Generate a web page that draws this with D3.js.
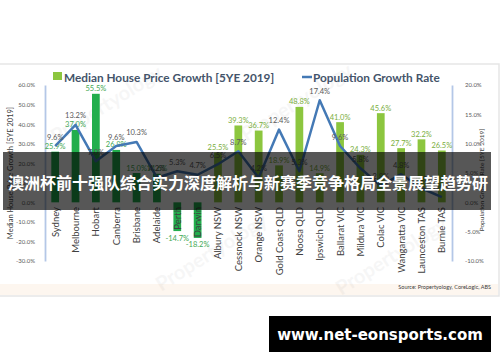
<!DOCTYPE html>
<html>
<head>
<meta charset="utf-8">
<script src="https://cdn.jsdelivr.net/npm/d3@7"></script>
<style>
  body { margin: 0; background: #fff; }
  svg { display: block; }
</style>
</head>
<body>
<div id="chart"></div>
<script>
var categories = ['Sydney', 'Melbourne', 'Hobart', 'Canberra', 'Brisbane', 'Adelaide', 'Perth', 'Darwin',
  'Albury NSW', 'Cessnock NSW', 'Orange NSW', 'Gold Coast QLD', 'Noosa QLD', 'Ipswich QLD',
  'Ballarat VIC', 'Mildura VIC', 'Colac VIC', 'Wangaratta VIC', 'Launceston TAS', 'Burnie TAS']
var capitals = ['Sydney', 'Melbourne', 'Hobart', 'Canberra', 'Brisbane', 'Adelaide', 'Perth', 'Darwin']
var priceGrowth = [25.9, 37.0, 55.5, 26.8, 15.0, 14.6, -14.7, -18.2, 25.5, 39.3, 36.7, 18.9, 48.8, 14.9,
  41.0, 24.3, 45.6, 27.7, 32.2, 26.5]
var popGrowth = [9.6, 13.2, 7.0, 9.6, 10.3, 4.2, 5.3, 4.7, 6.5, 8.7, 4.2, 12.4, 5.3, 17.4,
  9.6, 5.8, 2.8, 4.8, 2.4, 0.9]
var leftTicks = [60, 50, 40, 30, 20, 10, 0, -10, -20, -30]
var rightTicks = [20, 15, 10, 5, 0, -5, -10]
var seriesNames = ['Median House Price Growth [5YE 2019]', 'Population Growth Rate']
var leftTitle = 'Median House Price Growth [5YE 2019]'
var rightTitle = 'Population Growth Rate [5YE 2019]'
var sourceText = 'Source: Propertyology, CoreLogic, ABS'
var bannerText = '澳洲杯前十强队综合实力深度解析与新赛季竞争格局全景展望趋势研'
var siteText = 'www.net-eonsports.com'

var W = 500, H = 362
var font = 'Lato, "Liberation Sans", sans-serif'
var capGreen = '#22ae4c', regGreen = '#8cc63f', lineBlue = '#4479b5'

var svg = d3.select('#chart').append('svg')
  .attr('width', W)
  .attr('height', H)

// chart picture frame
svg.append('rect')
  .attr('x', -1).attr('y', 64).attr('width', 500).attr('height', 232)
  .attr('fill', '#fff').attr('stroke', '#e6e6e6').attr('stroke-width', 1.5)
svg.append('rect')
  .attr('x', 0).attr('y', 284).attr('width', 498).attr('height', 11)
  .attr('fill', '#fdf6ef')

// faint watermarks
var marks = [[110, 110], [300, 108], [215, 258], [395, 262]]
svg.selectAll('text.wm')
  .data(marks)
  .enter()
  .append('text')
  .attr('class', 'wm')
  .attr('transform', function(d) { return 'translate(' + d[0] + ',' + d[1] + ') rotate(-32)' })
  .attr('text-anchor', 'middle')
  .attr('font-family', font)
  .attr('font-weight', 700)
  .attr('font-size', 20)
  .attr('fill', '#000')
  .attr('opacity', 0.03)
  .text('Propertyology')

var x = d3.scaleBand()
  .domain(categories)
  .range([45, 452])
  .paddingInner(0.62)
  .paddingOuter(0.31)

var yL = d3.scaleLinear().domain([-30, 60]).range([261, 85])
var yR = d3.scaleLinear().domain([-10, 20]).range([261, 85])

function pct(v) { return v.toFixed(1) + '%' }
function cx(c) { return x(c) + x.bandwidth() / 2 }

// axes
var axisL = d3.axisLeft(yL).tickValues(leftTicks).tickFormat(pct).tickSize(0).tickPadding(10)
var axisR = d3.axisRight(yR).tickValues(rightTicks).tickFormat(pct).tickSize(0).tickPadding(13)

var gL = svg.append('g').attr('transform', 'translate(45,0)').call(axisL)
var gR = svg.append('g').attr('transform', 'translate(452,0)').call(axisR)
;[gL, gR].forEach(function(g) {
  g.select('.domain').attr('stroke', '#b4c7e7').attr('stroke-width', 1.8)
  g.selectAll('text')
    .attr('font-family', font)
    .attr('font-size', 6)
    .attr('fill', '#595959')
})

svg.append('text')
  .attr('transform', 'translate(13,173) rotate(-90)')
  .attr('text-anchor', 'middle')
  .attr('font-family', font)
  .attr('font-size', 7.5)
  .attr('fill', '#404040')
  .text(leftTitle)

svg.append('text')
  .attr('transform', 'translate(484,180) rotate(-90)')
  .attr('text-anchor', 'middle')
  .attr('font-family', font)
  .attr('font-size', 6.5)
  .attr('fill', '#404040')
  .text(rightTitle)

// bars
var rows = categories.map(function(c, i) {
  return { c: c, price: priceGrowth[i], pop: popGrowth[i], cap: capitals.indexOf(c) >= 0 }
})

svg.selectAll('rect.bar')
  .data(rows)
  .enter()
  .append('rect')
  .attr('class', 'bar')
  .attr('x', function(d) { return x(d.c) })
  .attr('width', x.bandwidth())
  .attr('y', function(d) { return yL(Math.max(0, d.price)) })
  .attr('height', function(d) { return Math.abs(yL(d.price) - yL(0)) })
  .attr('fill', function(d) { return d.cap ? capGreen : regGreen })

svg.selectAll('text.blab')
  .data(rows)
  .enter()
  .append('text')
  .attr('class', 'blab')
  .attr('x', function(d) { return cx(d.c) })
  .attr('y', function(d) { return d.price >= 0 ? yL(d.price) - 2.5 : yL(d.price) + 9.5 })
  .attr('text-anchor', 'middle')
  .attr('font-family', font)
  .attr('font-size', 7.5)
  .attr('fill', function(d) { return d.cap ? '#43a852' : '#7aae3c' })
  .text(function(d) { return pct(d.price) })

// category labels
svg.selectAll('text.cat')
  .data(categories)
  .enter()
  .append('text')
  .attr('class', 'cat')
  .attr('transform', function(c) { return 'translate(' + (cx(c) + 3.5) + ',207) rotate(-90)' })
  .attr('text-anchor', 'end')
  .attr('font-family', font)
  .attr('font-size', 9.5)
  .attr('fill', '#404040')
  .text(function(c) { return c })

// population line
var line = d3.line()
  .x(function(d) { return cx(d.c) })
  .y(function(d) { return yR(d.pop) })

svg.append('path')
  .attr('d', line(rows))
  .attr('fill', 'none')
  .attr('stroke', lineBlue)
  .attr('stroke-width', 2.5)
  .attr('stroke-linejoin', 'round')

svg.selectAll('text.llab')
  .data(rows)
  .enter()
  .append('text')
  .attr('class', 'llab')
  .attr('x', function(d) { return cx(d.c) })
  .attr('y', function(d) { return yR(d.pop) - 6.5 })
  .attr('text-anchor', 'middle')
  .attr('font-family', font)
  .attr('font-size', 7.5)
  .attr('fill', '#595959')
  .text(function(d) { return pct(d.pop) })

// legend
svg.append('rect')
  .attr('x', 53).attr('y', 72).attr('width', 9).attr('height', 8)
  .attr('fill', regGreen)
svg.append('text')
  .attr('x', 64).attr('y', 82)
  .attr('font-family', font)
  .attr('font-weight', 700)
  .attr('font-size', 11.8)
  .attr('fill', '#44546a')
  .text(seriesNames[0])
svg.append('line')
  .attr('x1', 302).attr('x2', 312).attr('y1', 77).attr('y2', 77)
  .attr('stroke', lineBlue).attr('stroke-width', 2.5)
svg.append('text')
  .attr('x', 313).attr('y', 82)
  .attr('font-family', font)
  .attr('font-weight', 700)
  .attr('font-size', 11.8)
  .attr('fill', '#44546a')
  .text(seriesNames[1])

svg.append('text')
  .attr('x', 491).attr('y', 289)
  .attr('text-anchor', 'end')
  .attr('font-family', font)
  .attr('font-size', 5.5)
  .attr('fill', '#404040')
  .text(sourceText)

// title banner over the chart
svg.append('rect')
  .attr('x', 3).attr('y', 152).attr('width', 488).attr('height', 58)
  .attr('fill', '#000').attr('opacity', 0.66)
svg.append('text')
  .attr('x', 8).attr('y', 189)
  .attr('font-family', '"Noto Sans CJK SC", sans-serif')
  .attr('font-weight', 700)
  .attr('font-size', 16)
  .attr('fill', '#fff')
  .text(bannerText)

// site badge
svg.append('rect')
  .attr('x', 269).attr('y', 316).attr('width', 222).attr('height', 36)
  .attr('fill', '#000')
svg.append('text')
  .attr('x', 380).attr('y', 340)
  .attr('text-anchor', 'middle')
  .attr('font-family', '"DejaVu Sans", sans-serif')
  .attr('font-weight', 700)
  .attr('font-size', 15)
  .attr('fill', '#fff')
  .text(siteText)
</script>
</body>
</html>
